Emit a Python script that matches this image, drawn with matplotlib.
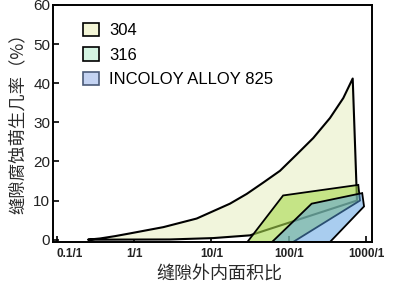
import matplotlib
matplotlib.use("Agg")
import matplotlib.pyplot as plt
from matplotlib.patches import Polygon, Patch

# ---- data ----
y_floor = -0.6
# 304: upper boundary curve (left -> right), then lower boundary (right -> left)
s304_upper_x = [0.255, 0.364, 0.569, 0.888, 2.39, 6.44, 17.3, 28.5, 46.6, 76.5, 126, 206, 338, 502, 664]
s304_upper_y = [0.0, 0.3, 0.9, 1.6, 3.2, 5.4, 9.2, 11.7, 14.6, 17.6, 21.8, 26.0, 31.1, 36.2, 41.2]
s304_lower_x = [754, 31.4, 10.5, 2.9, 0.31]
s304_lower_y = [10.0, 1.1, 0.4, 0.05, 0.0]
# 316 region
s316_x = [29, 84, 784, 824, 113]
s316_y = [y_floor, 11.3, 14.0, 10.0, y_floor]
# INCOLOY ALLOY 825 region
s825_x = [60.4, 196, 880, 930, 338]
s825_y = [y_floor, 9.2, 11.9, 8.5, y_floor]

legend_labels = ["304", "316", "INCOLOY ALLOY 825"]
x_ticks = [0.1, 1, 10, 100, 1000]
x_ticklabels = ["0.1/1", "1/1", "10/1", "100/1", "1000/1"]
y_ticks = [0, 10, 20, 30, 40, 50, 60]

LAT = ["Liberation Sans", "DejaVu Sans"]
CJK = ["Noto Sans CJK SC", "DejaVu Sans"]

fig = plt.figure(figsize=(3.95, 2.95), dpi=100)
ax = fig.add_axes([53 / 395, 1 - 242 / 295, (372 - 53) / 395, (242 - 5) / 295])
ax.set_xscale("log")
ax.set_xlim(0.0901, 1178)
ax.set_ylim(y_floor, 60)

# 304 region
p304 = list(zip(s304_upper_x, s304_upper_y)) + list(zip(s304_lower_x, s304_lower_y))
ax.add_patch(Polygon(p304, closed=True, facecolor="#f1f5dc", edgecolor="black", lw=1.5,
                     joinstyle="round", zorder=2))

# 316 region (semi-transparent green)
p316 = list(zip(s316_x, s316_y))
ax.add_patch(Polygon(p316, closed=True, facecolor=(0.66, 0.85, 0.30, 0.6), edgecolor="none", zorder=3))
ax.add_patch(Polygon(p316, closed=True, facecolor="none", edgecolor="black", lw=1.3, zorder=3.5))

# 825 region (semi-transparent blue)
p825 = list(zip(s825_x, s825_y))
ax.add_patch(Polygon(p825, closed=True, facecolor=(0.33, 0.61, 0.88, 0.5), edgecolor="none", zorder=4))
ax.add_patch(Polygon(p825, closed=True, facecolor="none", edgecolor="black", lw=1.3, zorder=4.5))

# axes styling
for s in ax.spines.values():
    s.set_linewidth(1.4)
    s.set_color("black")
    s.set_zorder(6)
ax.set_xticks(x_ticks)
ax.set_xticklabels(x_ticklabels, fontfamily=LAT, fontsize=8.5, fontweight="bold", color="#222222")
ax.xaxis.set_minor_locator(matplotlib.ticker.NullLocator())
ax.set_yticks(y_ticks)
ax.set_yticklabels([str(v) for v in y_ticks], fontfamily=LAT, fontsize=11, color="#222222")
ax.tick_params(axis="both", direction="in", length=4, width=1.2, colors="black", zorder=6)
ax.tick_params(axis="x", pad=4, labelcolor="#222222")
ax.tick_params(axis="y", pad=2, labelcolor="#222222")
ax.get_xticklabels()[0].set_horizontalalignment("left")

ax.set_xlabel("缝隙外内面积比", fontfamily=CJK, fontsize=13, color="#2a2a2a")
ax.xaxis.set_label_coords((219 - 53) / 319, -(275 - 242) / 237)
ax.xaxis.label.set_verticalalignment("center")
ax.set_ylabel("缝隙腐蚀萌生几率（%）", fontfamily=CJK, fontsize=12.5, color="#2a2a2a")
ax.yaxis.set_label_coords(-(53 - 18) / 319, (242 - 119) / 237)
ax.yaxis.label.set_verticalalignment("center")

handles = [
    Patch(facecolor="#f3f5d6", edgecolor="black", lw=1.2),
    Patch(facecolor="#d4f4e2", edgecolor="black", lw=1.2),
    Patch(facecolor="#c4d3f2", edgecolor="#4a5a78", lw=1.2),
]
leg = ax.legend(handles, legend_labels, loc="upper left", bbox_to_anchor=(0.085, 0.94),
                frameon=False, prop={"family": LAT, "size": 12}, handlelength=0.95,
                handleheight=0.85, handletextpad=0.6, labelspacing=0.56, borderpad=0.2,
                borderaxespad=0)

fig.savefig("out.png", dpi=100)
